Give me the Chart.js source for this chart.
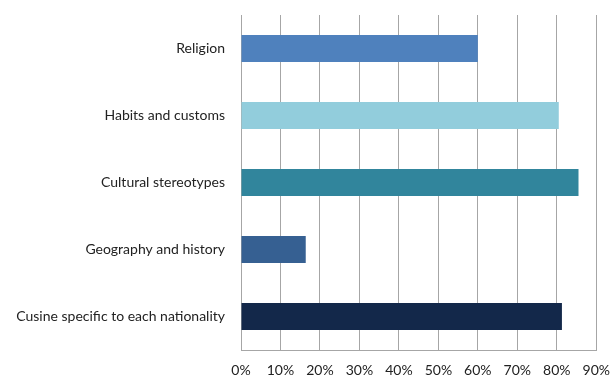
<!DOCTYPE html>
<html>
<head>
<meta charset="utf-8">
<script src="https://cdn.jsdelivr.net/npm/chart.js@4/dist/chart.umd.min.js"></script>
<style>
  html, body { margin:0; padding:0; background:#fff; }
  #wrap { width:611px; height:376px; }
</style>
</head>
<body>
<div id="wrap"><canvas id="chart"></canvas></div>
<script>
// ── DATA ────────────────────────────────────────────────
const categories = ['Religion', 'Habits and customs', 'Cultural stereotypes', 'Geography and history', 'Cusine specific to each nationality'];
const values = [60, 80.5, 85.5, 16.4, 81.3];
const barColors = ['#4f81bd', '#92cddc', '#31859c', '#366092', '#13284a'];
const xTicks = [0, 10, 20, 30, 40, 50, 60, 70, 80, 90];

const labelFont = {family: "Lato, sans-serif", size: 14};
const gridColor = '#a6a6a6';
const hidden = 'rgba(0,0,0,0)';

new Chart(document.getElementById('chart'), {
  type: 'bar',
  data: {
    labels: categories,
    datasets: [{
      data: values,
      backgroundColor: barColors,
      barPercentage: 0.4,
      categoryPercentage: 1.0,
    }]
  },
  options: {
    indexAxis: 'y',
    responsive: true, maintainAspectRatio: false,
    animation: false,
    layout: {padding: {top: 15, right: 0, left: 0, bottom: 0}},
    plugins: {legend: {display: false}, tooltip: {enabled: false}},
    scales: {
      x: {
        min: 0, max: 90,
        afterBuildTicks: s => { s.ticks = xTicks.map(v => ({value: v})); },
        ticks: {color: '#222', font: labelFont, padding: 1, callback: v => v + '%'},
        // invisible tick marks just push the labels away from the axis
        grid: {color: gridColor, drawTicks: true, tickLength: 11, tickColor: hidden},
        border: {color: gridColor},
        afterFit: s => { s.height = 26; }
      },
      y: {
        ticks: {color: '#222', font: labelFont, padding: 1},
        grid: {color: hidden, drawOnChartArea: false, drawTicks: true, tickLength: 15, tickColor: hidden},
        border: {color: gridColor},
        afterFit: s => { s.width = 241; }
      }
    }
  }
});
</script>
</body>
</html>
